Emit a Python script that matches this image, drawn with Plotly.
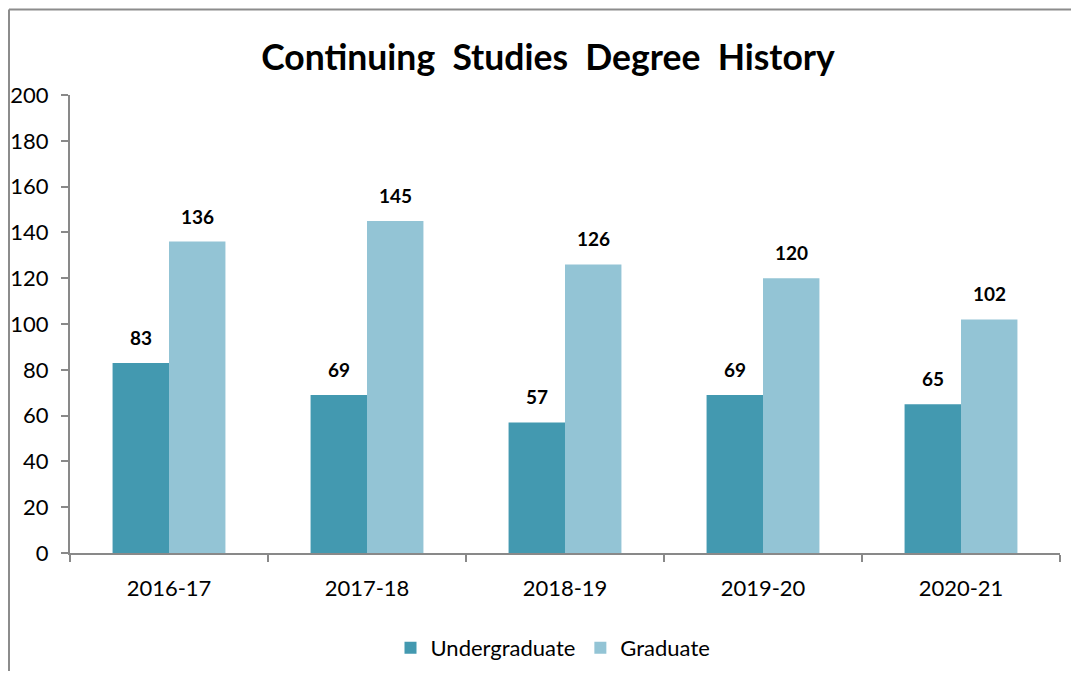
import plotly.graph_objects as go

categories = ["2016-17", "2017-18", "2018-19", "2019-20", "2020-21"]
undergraduate = [83, 69, 57, 69, 65]
graduate = [136, 145, 126, 120, 102]
y_ticks = [0, 20, 40, 60, 80, 100, 120, 140, 160, 180, 200]

DARK = "#4399B0"
LIGHT = "#93C4D5"
FONT = "Lato, Carlito, 'Open Sans', sans-serif"

# page body has an 8px margin, so the figure is sized to fit inside the window
W, H = 1063, 663
ML, MT = 62, 87
PW, PH = 990, 458
MR, MB = W - ML - PW, H - MT - PH

fig = go.Figure()
fig.add_trace(go.Bar(x=categories, y=undergraduate, name="Undergraduate",
                     marker=dict(color=DARK, line=dict(width=0))))
fig.add_trace(go.Bar(x=categories, y=graduate, name="Graduate",
                     marker=dict(color=LIGHT, line=dict(width=0))))

annotations = []
for i, c in enumerate(categories):
    for val, shift in ((undergraduate[i], -28), (graduate[i], 28)):
        annotations.append(dict(x=c, y=val, xref="x", yref="y", text=f"<b>{val}</b>",
                                showarrow=False, xshift=shift, yshift=12, yanchor="bottom",
                                font=dict(family=FONT, size=19, color="#000")))

border_x = (1 - ML) / PW
border_y = (MT + PH - 1.5) / PH
right_x = (W - ML) / PW
bottom_y = -MB / PH

fig.update_layout(
    width=W, height=H,
    margin=dict(l=ML, r=MR, t=MT, b=MB, pad=0, autoexpand=False),
    paper_bgcolor="white", plot_bgcolor="white",
    barmode="group", bargap=0.43, bargroupgap=0,
    title=dict(text="<b>Continuing  Studies  Degree  History</b>", x=540 / W, xanchor="center",
               y=1 - 50 / H, yanchor="middle",
               font=dict(family=FONT, size=35.5, color="#000")),
    xaxis=dict(showline=True, linecolor="#898989", linewidth=2, ticks="outside",
               tickson="boundaries", ticklen=7, tickcolor="#898989", tickwidth=2,
               tickfont=dict(family=FONT, size=22, color="#000"), showgrid=False,
               zeroline=False, automargin=False, ticklabelstandoff=15),
    yaxis=dict(range=[0, 200], tickvals=y_ticks, showline=True, linecolor="#898989",
               linewidth=2, ticks="outside", ticklen=7, tickcolor="#898989", tickwidth=2,
               tickfont=dict(family=FONT, size=22, color="#000"), showgrid=False,
               zeroline=False, ticklabelstandoff=8, automargin=False),
    legend=dict(orientation="h", x=(545 - ML) / PW, xanchor="center", y=-(640 - (MT + PH)) / PH,
                yanchor="middle", font=dict(family=FONT, size=22, color="#000"),
                traceorder="normal"),
    annotations=annotations,
    shapes=[
        dict(type="line", xref="paper", yref="paper", x0=border_x, x1=right_x,
             y0=border_y, y1=border_y, line=dict(color="#8c8c8c", width=2)),
        dict(type="line", xref="paper", yref="paper", x0=border_x, x1=border_x,
             y0=bottom_y, y1=border_y, line=dict(color="#8c8c8c", width=2)),
    ],
)

fig.write_html("out.html")
